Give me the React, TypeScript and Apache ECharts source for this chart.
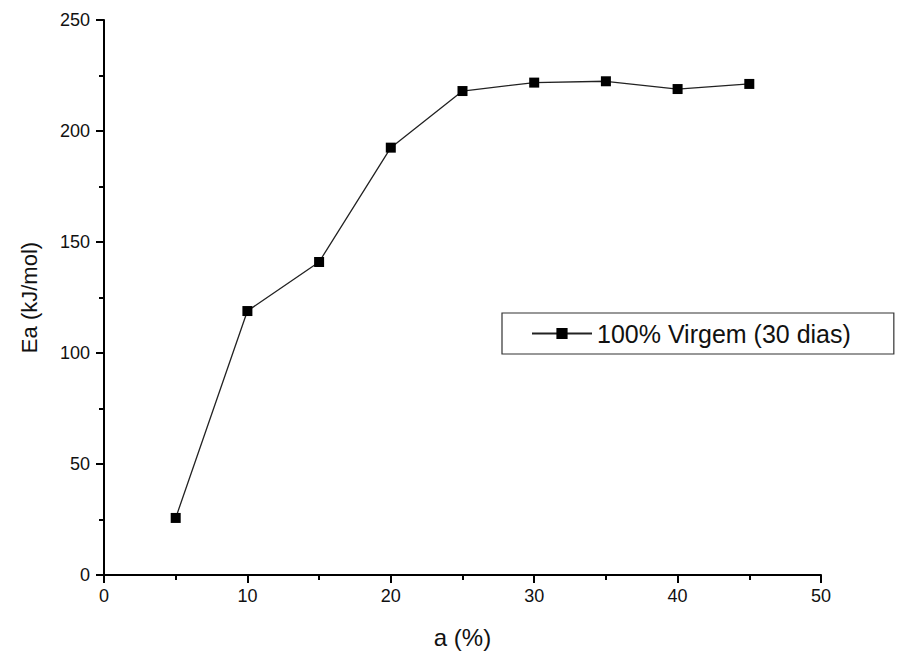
import React, { useEffect, useRef } from "react";
import * as echarts from "echarts";

const xValues = [5, 10, 15, 20, 25, 30, 35, 40, 45];
const eaValues = [25.7, 118.9, 141, 192.5, 218, 221.8, 222.4, 218.9, 221.2];
const seriesName = "100% Virgem (30 dias)";
const xAxisName = "a (%)";
const yAxisName = "Ea (kJ/mol)";

const FONT = "Liberation Sans, Arial, sans-serif";

export default function App() {
  const ref = useRef<HTMLDivElement>(null);
  useEffect(() => {
    if (!ref.current) return;
    const chart = echarts.init(ref.current, null, { renderer: "svg" });
    const data = xValues.map((x, i) => [x, eaValues[i]]);
    chart.setOption({
      animation: false,
      backgroundColor: "#ffffff",
      textStyle: { fontFamily: FONT },
      grid: { left: 104, right: 77, top: 20, bottom: 91, containLabel: false },
      legend: {
        show: true,
        left: 502,
        top: 313,
        orient: "horizontal",
        backgroundColor: "#ffffff",
        borderColor: "#333333",
        borderWidth: 1.2,
        borderRadius: 0,
        padding: [8, 43, 8, 29],
        itemWidth: 60,
        itemHeight: 14,
        textStyle: { fontFamily: FONT, fontSize: 25, color: "#111111" },
        data: [seriesName],
      },
      xAxis: {
        type: "value",
        min: 0,
        max: 50,
        interval: 10,
        name: xAxisName,
        nameLocation: "middle",
        nameGap: 50,
        nameTextStyle: { fontFamily: FONT, fontSize: 24, color: "#111111" },
        axisLine: { show: true, lineStyle: { color: "#000000", width: 2 } },
        axisTick: { show: true, inside: false, length: 8, lineStyle: { color: "#000000", width: 2 } },
        minorTick: { show: true, splitNumber: 2, length: 5, lineStyle: { color: "#000000", width: 2 } },
        axisLabel: { fontFamily: FONT, fontSize: 18, color: "#111111", margin: 12 },
        splitLine: { show: false },
      },
      yAxis: {
        type: "value",
        min: 0,
        max: 250,
        interval: 50,
        name: yAxisName,
        nameLocation: "middle",
        nameGap: 64,
        nameRotate: 90,
        nameTextStyle: { fontFamily: FONT, fontSize: 22, color: "#111111" },
        axisLine: { show: true, lineStyle: { color: "#000000", width: 2 } },
        axisTick: { show: true, inside: false, length: 8, lineStyle: { color: "#000000", width: 2 } },
        minorTick: { show: true, splitNumber: 2, length: 5, lineStyle: { color: "#000000", width: 2 } },
        axisLabel: { fontFamily: FONT, fontSize: 18, color: "#111111", margin: 14 },
        splitLine: { show: false },
      },
      series: [
        {
          name: seriesName,
          type: "line",
          data,
          symbol: "rect",
          symbolSize: 10,
          showAllSymbol: true,
          lineStyle: { color: "#222222", width: 1.3 },
          itemStyle: { color: "#000000" },
        },
      ],
    });
    return () => chart.dispose();
  }, []);
  return <div ref={ref} style={{ width: 898, height: 666, position: "absolute", left: 0, top: 0 }} />;
}
